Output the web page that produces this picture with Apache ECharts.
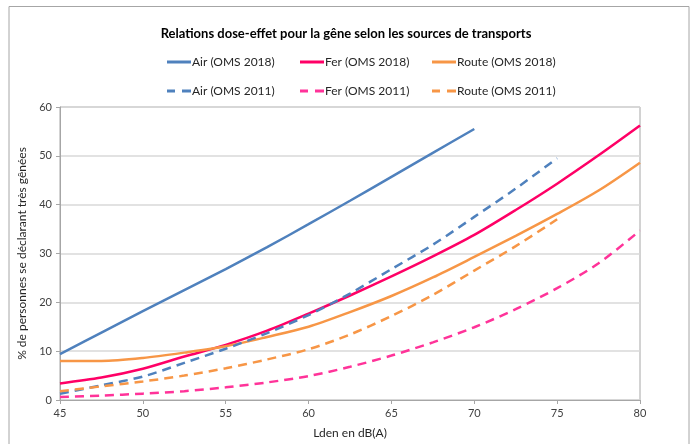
<!DOCTYPE html>
<html><head><meta charset="utf-8">
<script src="https://cdn.jsdelivr.net/npm/echarts@6/dist/echarts.min.js"></script>
<style>html,body{margin:0;padding:0;background:#fff}#c{width:692px;height:444px}</style>
</head><body><div id="c"></div>
<script>
const xs = [45, 47.5, 50, 52.5, 55, 57.5, 60, 62.5, 65, 67.5, 70, 72.5, 75, 77.5, 80];
const airOMS2018   = [9.4, 13.8, 18.2, 22.5, 26.8, 31.3, 36.0, 40.8, 45.7, 50.6, 55.5];
const ferOMS2018   = [3.4, 4.6, 6.4, 8.9, 11.3, 14.2, 17.7, 21.4, 25.3, 29.4, 33.8, 38.9, 44.3, 50.1, 56.2];
const routeOMS2018 = [8.0, 8.0, 8.6, 9.7, 11.0, 12.9, 15.0, 18.0, 21.3, 25.1, 29.3, 33.6, 38.1, 42.9, 48.6];
const airOMS2011   = [1.3, 3.0, 4.8, 7.6, 10.5, 13.7, 17.4, 21.8, 26.8, 31.8, 37.5, 43.3, 49.5];
const ferOMS2011   = [0.6, 0.9, 1.3, 1.8, 2.6, 3.6, 4.9, 6.8, 9.1, 11.8, 14.9, 18.6, 22.9, 28.0, 34.7];
const routeOMS2011 = [1.8, 2.8, 3.8, 5.0, 6.5, 8.3, 10.4, 13.4, 17.2, 21.5, 26.5, 31.5, 37.0];
const xTicks = [45, 50, 55, 60, 65, 70, 75, 80];
const yTicks = [0, 10, 20, 30, 40, 50, 60];
const names = ['Air (OMS 2018)', 'Fer (OMS 2018)', 'Route (OMS 2018)', 'Air (OMS 2011)', 'Fer (OMS 2011)', 'Route (OMS 2011)'];

const pair = arr => arr.map((v, i) => [xs[i], v]);
const FONT = 'Lato';
const cBlue = '#4F81BD', cRed = '#FF0066', cOrange = '#F79646', cPink = '#FF3399', cOrange2 = '#F79646';

function ser(name, data, color, dashed) {
  return {
    name, type: 'line', data: pair(data), showSymbol: false, symbol: 'none', smooth: 0.3,
    lineStyle: { color, width: 2.5, type: dashed ? [9, 6] : 'solid', cap: 'butt' },
    itemStyle: { color }, z: 3
  };
}
const lefts = [162, 295, 427];
const solidIcon = 'path://M0,0h24v3h-24z';
const dashIcon = 'path://M0,0h8v3h-8z M15,0h9v3h-9z';
const legends = names.map((n, i) => ({
  data: [n], left: lefts[i % 3], top: i < 3 ? 51 : 80,
  icon: i < 3 ? solidIcon : dashIcon,
  itemWidth: 24, itemHeight: 3, itemGap: 0,
  textStyle: { fontFamily: FONT, fontSize: 12, color: '#262626', padding: [0, 0, 0, -4] }
}));

const chart = echarts.init(document.getElementById('c'));
chart.setOption({
  animation: false,
  backgroundColor: '#fff',
  title: { text: 'Relations dose-effet pour la gêne selon les sources de transports', left: 'center', top: 22,
    textStyle: { fontFamily: FONT, fontSize: 13, fontWeight: 'bold', color: '#000' } },
  legend: legends,
  graphic: [{ type: 'rect', shape: { x: 9, y: 6.5, width: 680, height: 460 }, style: { fill: 'none', stroke: '#A6A6A6', lineWidth: 1 }, silent: true }],
  grid: { left: 60, right: 52, top: 107, bottom: 41, show: true, borderColor: '#A6A6A6', borderWidth: 1, backgroundColor: 'transparent' },
  xAxis: {
    type: 'value', min: xTicks[0], max: xTicks[xTicks.length - 1], interval: 5,
    name: 'Lden en dB(A)', nameLocation: 'middle', nameGap: 27,
    nameTextStyle: { fontFamily: FONT, fontSize: 12, color: '#262626' },
    axisLine: { lineStyle: { color: '#A6A6A6' } },
    axisTick: { show: true, length: 4, lineStyle: { color: '#A6A6A6' } },
    axisLabel: { fontFamily: FONT, fontSize: 11, color: '#404040', margin: 8 },
    splitLine: { show: false }
  },
  yAxis: {
    type: 'value', min: yTicks[0], max: yTicks[yTicks.length - 1], interval: 10,
    name: '% de personnes se déclarant très gênées', nameLocation: 'middle', nameGap: 32, nameRotate: 90,
    nameTextStyle: { fontFamily: FONT, fontSize: 12, color: '#262626' },
    axisLine: { show: true, lineStyle: { color: '#A6A6A6' } },
    axisTick: { show: true, length: 4, lineStyle: { color: '#A6A6A6' } },
    axisLabel: { fontFamily: FONT, fontSize: 11, color: '#404040', margin: 8 },
    splitLine: { lineStyle: { color: '#D9D9D9', width: 1.5 } }
  },
  series: [
    ser(names[0], airOMS2018, cBlue, false),
    ser(names[1], ferOMS2018, cRed, false),
    ser(names[2], routeOMS2018, cOrange, false),
    ser(names[3], airOMS2011, cBlue, true),
    ser(names[4], ferOMS2011, cPink, true),
    ser(names[5], routeOMS2011, cOrange2, true)
  ]
});
</script></body></html>
